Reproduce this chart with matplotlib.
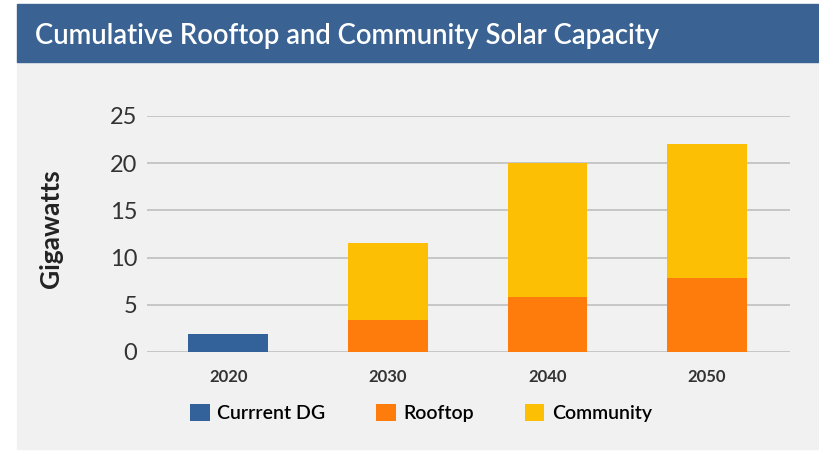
import matplotlib.pyplot as plt
from matplotlib.patches import Rectangle

plt.rcParams['font.family'] = ['Lato', 'DejaVu Sans']

years = ['2020', '2030', '2040', '2050']
current_dg = [1.9, 0, 0, 0]
rooftop = [0, 3.4, 5.8, 7.8]
community = [0, 8.1, 14.2, 14.2]

blue = '#33629a'
orange = '#fd7c0c'
yellow = '#fdbf04'
panel = '#f1f1f1'

fig = plt.figure(figsize=(8.2, 4.51), dpi=100)
fig.patch.set_facecolor('white')

# grey panel and blue header band
fig.patches.append(Rectangle((17 / 820, 0.005), 1, 1 - 62 / 451 - 0.005,
                             transform=fig.transFigure, color=panel, zorder=0))
fig.patches.append(Rectangle((17 / 820, 1 - 62 / 451), 1, 58 / 451,
                             transform=fig.transFigure, color='#3a6393', zorder=0))
fig.text(35 / 820, 1 - 36 / 451, 'Cumulative Rooftop and Community Solar Capacity',
         color='white', fontsize=19.8, fontweight='semibold', va='center', ha='left')

ax = fig.add_axes([147 / 820, 1 - 352 / 451, 643 / 820, 236 / 451])
ax.set_zorder(2)
ax.set_facecolor(panel)
x = range(len(years))
w = 0.5
ax.bar(x, current_dg, w, color=blue, label='Currrent DG', zorder=3)
ax.bar(x, rooftop, w, color=orange, label='Rooftop', zorder=3)
ax.bar(x, community, w, bottom=rooftop, color=yellow, label='Community', zorder=3)

ax.set_xlim(-0.51, 3.52)
ax.set_ylim(0, 25)
ax.set_yticks([0, 5, 10, 15, 20, 25])
ax.set_xticks(list(x))
ax.set_xticklabels(years, fontsize=12, fontweight='bold', color='#333333')
ax.tick_params(axis='y', labelsize=17, colors='#333333', length=0, pad=7)
ax.tick_params(axis='x', length=0, pad=12)
ax.grid(axis='y', color='#bfbfbf', linewidth=1.2, zorder=0)
for s in ax.spines.values():
    s.set_visible(False)

fig.text(51 / 820, 1 - 229 / 451, 'Gigawatts', rotation=90, fontsize=19,
         fontweight='bold', color='#222222', ha='center', va='center')

fig.legend(loc='center', bbox_to_anchor=(421 / 820, 1 - 413 / 451), ncol=3,
           frameon=False, handlelength=1.0, handleheight=1.0,
           handletextpad=0.4, columnspacing=2.6,
           prop={'size': 14, 'weight': 'semibold'})

fig.savefig('out.png', dpi=100, facecolor=fig.get_facecolor())
